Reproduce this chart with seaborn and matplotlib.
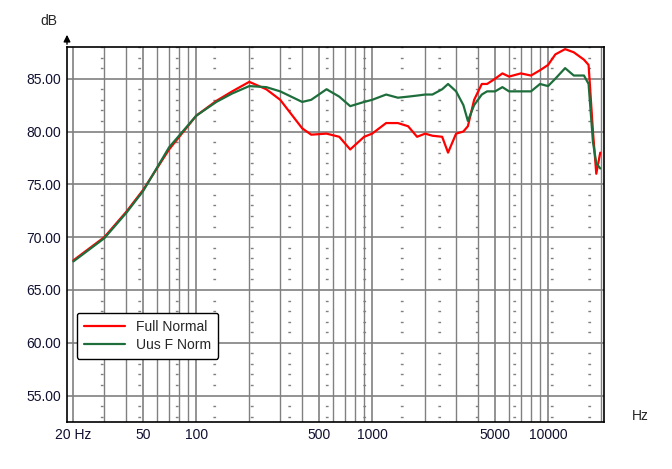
import numpy as np
import matplotlib.pyplot as plt
import seaborn as sns
from matplotlib.ticker import FixedLocator, NullFormatter, MultipleLocator

sns.set_style('white')
plt.rcParams['font.family'] = ['Liberation Sans', 'DejaVu Sans']

freq = [20, 30, 40, 50, 70, 100, 130, 160, 200, 250, 300, 400, 450, 550, 650, 750, 900, 1000,
        1200, 1400, 1600, 1800, 2000, 2200, 2500, 2700, 3000, 3300, 3500, 3800, 4200,
        4500, 5000, 5500, 6000, 7000, 8000, 9000, 10000, 11000, 12500, 14000, 16000,
        17000, 18000, 18800, 19800]
full_normal = [67.8, 70.0, 72.4, 74.5, 78.3, 81.5, 82.9, 83.8, 84.7, 84.0, 83.0, 80.3, 79.7, 79.8,
               79.5, 78.3, 79.5, 79.8, 80.8, 80.8, 80.5, 79.5, 79.8, 79.6, 79.5, 78.0,
               79.8, 80.0, 80.5, 83.0, 84.5, 84.5, 85.0, 85.5, 85.2, 85.5, 85.3, 85.8,
               86.3, 87.3, 87.8, 87.5, 86.8, 86.3, 80.0, 76.0, 78.0]
uus_f_norm = [67.7, 69.9, 72.3, 74.4, 78.5, 81.5, 82.8, 83.6, 84.3, 84.2, 83.8, 82.8, 83.0, 84.0,
              83.3, 82.4, 82.8, 83.0, 83.5, 83.2, 83.3, 83.4, 83.5, 83.5, 84.0, 84.5,
              83.8, 82.5, 81.0, 82.5, 83.5, 83.8, 83.8, 84.2, 83.8, 83.8, 83.8, 84.5,
              84.3, 85.0, 86.0, 85.3, 85.3, 84.5, 79.0, 77.0, 76.5]

fig = plt.figure(figsize=(6.72, 4.69), dpi=100)
ax = fig.add_axes([67 / 672, 1 - 422 / 469, 537 / 672, 375 / 469])
sns.lineplot(x=freq, y=full_normal, ax=ax, color='#ff0000', lw=1.6, label='Full Normal')
sns.lineplot(x=freq, y=uus_f_norm, ax=ax, color='#1e6e3c', lw=1.6, label='Uus F Norm')

ax.set_xscale('log')
ax.set_xlim(18.4, 20800)
ax.set_ylim(52.5, 88)
minor = [f * d for d in (10, 100, 1000) for f in range(2, 10)] + [20000]
ax.xaxis.set_major_locator(FixedLocator([20, 50, 100, 500, 1000, 5000, 10000]))
ax.xaxis.set_minor_locator(FixedLocator(minor))
ax.xaxis.set_minor_formatter(NullFormatter())
ax.set_xticklabels(['20 Hz', '50', '100', '500', '1000', '5000', '10000'])
ax.yaxis.set_major_locator(MultipleLocator(5))
ax.yaxis.set_minor_locator(MultipleLocator(1))
ax.yaxis.set_major_formatter(lambda v, p: f'{v:.2f}')
ax.grid(which='major', color='#808080', lw=1.2)
ax.grid(which='minor', axis='x', color='#808080', lw=1.0)
ax.grid(which='minor', axis='y', color='#808080', lw=1.0, linestyle=(3, (2, 25)))
ax.tick_params(labelsize=10, colors='#101030', length=0, pad=4)
for s in ax.spines.values():
    s.set_color('black')
    s.set_linewidth(1.2)
fig.text(40 / 672, 1 - 25 / 469, 'dB', fontsize=10)
fig.text(632 / 672, 1 - 420 / 469, 'Hz', fontsize=10)
ax.annotate('', xy=(67 / 672, 1 - 32 / 469), xytext=(67 / 672, 1 - 47 / 469),
            xycoords='figure fraction',
            arrowprops=dict(arrowstyle='-|>', color='black', lw=1, facecolor='white'))

leg = ax.legend(loc='upper left', bbox_to_anchor=(0.005, 0.31), fontsize=10,
                frameon=True, fancybox=True, edgecolor='black', framealpha=1,
                handlelength=3, borderpad=0.5, labelspacing=0.3)
leg.get_frame().set_linewidth(1.0)
fig.savefig('out.png', dpi=100)
